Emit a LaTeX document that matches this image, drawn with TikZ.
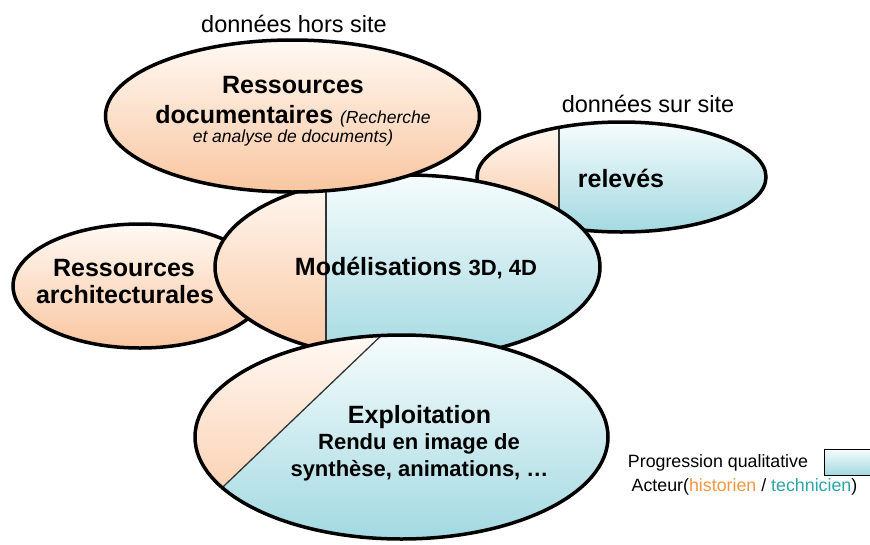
\documentclass[tikz,border=0pt]{standalone}
\usepackage{fontspec}
\setmainfont{Liberation Sans}
\definecolor{orTop}{HTML}{FFF9F4}
\definecolor{orBot}{HTML}{F9C6A0}
\definecolor{blTop}{HTML}{F6FCFD}
\definecolor{blBot}{HTML}{A3D9E1}
\definecolor{histo}{HTML}{F7963F}
\definecolor{techn}{HTML}{2EA3A6}
\tikzset{
  outline/.style={draw=black, line width=3.5pt},
  splitline/.style={draw=black!80, line width=1.3pt},
  orfill/.style={top color=orTop, bottom color=orBot},
  blfill/.style={top color=blTop, bottom color=blBot},
  bigtxt/.style={font=\fontsize{25}{30}\selectfont\bfseries, anchor=base, inner sep=0pt},
  midtxt/.style={font=\fontsize{22}{26}\selectfont\bfseries, anchor=base, inner sep=0pt},
  labtxt/.style={font=\fontsize{23.5}{28}\selectfont, anchor=base, inner sep=0pt},
  smalltxt/.style={font=\fontsize{17.8}{21}\selectfont, anchor=base, inner sep=0pt},
  ittxt/.style={font=\fontsize{17.5}{21}\selectfont\itshape, anchor=base, inner sep=0pt},
}
\begin{document}
\begin{tikzpicture}[x=1pt,y=-1pt]
\useasboundingbox (0,0) rectangle (870,544);

% Ressources architecturales
\coordinate (arc) at (140,286);
\path[orfill] (arc) ellipse [x radius=127, y radius=62];
\draw[outline] (arc) ellipse [x radius=127, y radius=62];

% releves
\coordinate (rel) at (621.5,177);
\coordinate (relT) at (559,110);
\coordinate (relB) at (559,245);
\begin{scope}
  \clip (rel) ellipse [x radius=144.5, y radius=55];
  \path[orfill] (470,122) rectangle (559,232);
  \path[blfill] (559,122) rectangle (770,232);
  \draw[splitline] (relT) -- (relB);
\end{scope}
\draw[outline] (rel) ellipse [x radius=144.5, y radius=55];

% Modelisations
\coordinate (mod) at (407.5,267);
\coordinate (modT) at (326,165);
\coordinate (modB) at (326,370);
\begin{scope}
  \clip (mod) ellipse [x radius=192.5, y radius=92];
  \path[orfill] (210,175) rectangle (326,359);
  \path[blfill] (326,175) rectangle (605,359);
  \draw[splitline] (modT) -- (modB);
\end{scope}
\draw[outline] (mod) ellipse [x radius=192.5, y radius=92];

% Ressources documentaires
\coordinate (doc) at (292.5,116);
\path[orfill] (doc) ellipse [x radius=187, y radius=76];
\draw[outline] (doc) ellipse [x radius=187, y radius=76];

% Exploitation
\coordinate (exp) at (401.5,437);
\coordinate (expT) at (387,330);
\coordinate (expB) at (180,528);
\begin{scope}
  \clip (exp) ellipse [x radius=206.5, y radius=102];
  \path[blfill] (190,335) rectangle (613,539);
  \begin{scope}
    \clip (expT) -- (expB) -- (180,330) -- cycle;
    \path[orfill] (190,335) rectangle (613,539);
  \end{scope}
  \draw[splitline] (expT) -- (expB);
\end{scope}
\draw[outline] (exp) ellipse [x radius=206.5, y radius=102];

% Texts
\node[labtxt] (hors) at (294,32) {données hors site};
\node[labtxt] (sur) at (648,112) {données sur site};

\node[bigtxt] (doc1) at (293,93) {Ressources};
\node[bigtxt] (doc2) at (293,123) {documentaires {\fontsize{17.5}{21}\selectfont\mdseries\itshape (Recherche}};
\node[ittxt] (doc3) at (293,142) {et analyse de documents)};

\node[bigtxt] (arc1) at (124,276) {Ressources};
\node[bigtxt] (arc2) at (125,303) {architecturales};

\node[bigtxt] (rel1) at (621,187) {relevés};

\node[bigtxt] (mod1) at (416,275) {Modélisations {\fontsize{22}{26}\selectfont 3D, 4D}};

\node[bigtxt] (exp1) at (419.5,423) {Exploitation};
\node[midtxt] (exp2) at (419,449) {Rendu en image de};
\node[midtxt] (exp3) at (419.5,476) {synthèse, animations, …};

% Legend
\node[smalltxt] (leg1) at (718,467) {Progression qualitative};
\node[smalltxt] (leg2) at (744.5,491) {Acteur({\color{histo}historien} / {\color{techn}technicien})};
\coordinate (boxTL) at (824,449);
\coordinate (boxBR) at (870,475);
\path[blfill] (boxTL) rectangle (boxBR);
\draw[line width=1pt] (870,449) -- (boxTL) -- (824,475) -- (870,475);
\end{tikzpicture}
\end{document}
